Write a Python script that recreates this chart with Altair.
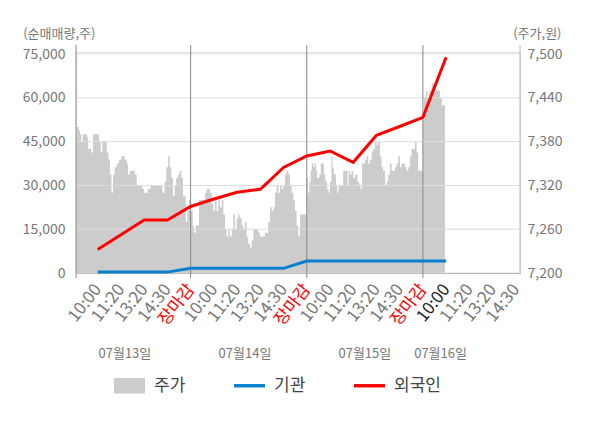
import json
import altair as alt
import pandas as pd

FONT = "Noto Sans CJK KR"

# ---- axis labels / categories ----
tick_labels = ['10:00', '11:20', '13:20', '14:30', '장마감'] * 3 + ['10:00', '11:20', '13:20', '14:30']
tick_pos = list(range(1, 20))
day_bounds = [5, 10, 15]
date_labels = ['07월13일', '07월14일', '07월15일', '07월16일']
date_pos = [2.17, 7.34, 12.5, 15.76]
vol_ticks = [0, 15000, 30000, 45000, 60000, 75000]
price_ticks = [7200, 7260, 7320, 7380, 7440, 7500]
x_domain = [0.065, 19.18]

# ---- net buying (cumulative, shares) ----
line_pos = list(range(1, 17))
foreign = [8050, 13100, 18150, 18150, 22780, 25350, 27670, 28670, 36130, 40070,
           41790, 37910, 47160, 50180, 53330, 73880]
inst = [300, 300, 300, 300, 1600, 1600, 1600, 1600, 1600, 4100,
        4100, 4100, 4100, 4100, 4100, 4100]

# ---- price (won) ----
day1_pos = [0.07, 0.11, 0.19, 0.24, 0.29, 0.35, 0.55, 0.58, 0.72, 0.80, 1.06, 1.13, 1.20, 1.39, 1.46,
            1.53, 1.59, 1.66, 1.73, 1.82, 1.92, 2.02, 2.16, 2.25, 2.30, 2.38, 2.60, 2.68, 2.92, 2.99,
            3.16, 3.28, 3.78, 3.88, 3.95, 4.03, 4.10, 4.17, 4.24, 4.31, 4.38, 4.46, 4.53, 4.60, 4.67,
            4.79, 4.86, 4.93]
day1_val = [7385, 7400, 7395, 7390, 7380, 7390, 7385, 7370, 7365, 7390, 7380, 7365, 7380, 7365, 7355,
            7335, 7310, 7335, 7345, 7350, 7355, 7360, 7355, 7350, 7335, 7340, 7335, 7320, 7315, 7310,
            7315, 7320, 7310, 7325, 7345, 7360, 7345, 7330, 7305, 7320, 7330, 7335, 7340, 7330, 7305,
            7270, 7285, 7300]
day2_pos = [5.00, 5.09, 5.14, 5.22, 5.36, 5.55, 5.62, 5.69, 5.83, 5.91, 5.98, 6.05, 6.12, 6.19, 6.26,
            6.34, 6.41, 6.48, 6.55, 6.62, 6.69, 6.77, 6.84, 6.91, 6.98, 7.05, 7.12, 7.20, 7.27, 7.34,
            7.41, 7.48, 7.56, 7.63, 7.70, 7.91, 7.99, 8.20, 8.34, 8.42, 8.49, 8.56, 8.63, 8.70, 8.78,
            8.85, 8.92, 8.99, 9.06, 9.13, 9.21, 9.28, 9.35, 9.42, 9.49, 9.56, 9.64, 9.71, 9.78]
day2_val = [7285, 7265, 7255, 7265, 7300, 7295, 7310, 7315, 7310, 7295, 7285, 7300, 7285, 7300, 7290,
            7300, 7280, 7260, 7250, 7260, 7250, 7260, 7280, 7260, 7275, 7280, 7275, 7265, 7260, 7270,
            7250, 7240, 7235, 7245, 7260, 7255, 7250, 7255, 7270, 7290, 7285, 7290, 7310, 7320, 7310,
            7320, 7315, 7320, 7335, 7340, 7335, 7320, 7310, 7300, 7285, 7265, 7250, 7280, 7280]
day3_pos = [10.00, 10.05, 10.11, 10.17, 10.22, 10.28, 10.34, 10.40, 10.45, 10.54, 10.60, 10.74, 10.80,
            10.88, 10.94, 11.00, 11.06, 11.11, 11.17, 11.26, 11.31, 11.37, 11.57, 11.75, 11.80, 11.86,
            11.93, 12.00, 12.08, 12.18, 12.26, 12.32, 12.38, 12.43, 12.51, 12.58, 12.65, 12.72, 12.79,
            12.86, 12.94, 13.01, 13.08, 13.15, 13.22, 13.29, 13.37, 13.44, 13.51, 13.58, 13.65, 13.73,
            13.80, 13.87, 13.94, 14.01, 14.08, 14.16, 14.23, 14.30, 14.37, 14.44, 14.51, 14.59, 14.66,
            14.73, 14.80]
day3_val = [7330, 7310, 7325, 7340, 7350, 7345, 7350, 7340, 7330, 7335, 7350, 7335, 7325,
            7315, 7310, 7325, 7360, 7345, 7335, 7320, 7310, 7320, 7340, 7320, 7340, 7335,
            7340, 7330, 7335, 7325, 7320, 7315, 7350, 7350, 7355, 7360, 7350, 7355, 7365,
            7370, 7380, 7375, 7380, 7360, 7345, 7340, 7320, 7325, 7335, 7350, 7340, 7340,
            7345, 7350, 7360, 7345, 7350, 7350, 7345, 7340, 7345, 7360, 7370, 7370, 7380,
            7365, 7340]
day4_pos = [15.00, 15.05, 15.13, 15.19, 15.28, 15.38, 15.52, 15.73, 15.81, 15.95]
day4_val = [7410, 7440, 7450, 7440, 7450, 7460, 7450, 7440, 7430, 7430]

series_names = ['주가', '기관', '외국인']
series_colors = ['#cccccc', '#0b7fcf', '#ff0000']
series_shapes = ['M-1,-0.5H1V0.5H-1Z', 'M-1,-0.11H1V0.11H-1Z', 'M-1,-0.11H1V0.11H-1Z']

# ---- tables ----
price_df = pd.DataFrame({
    'pos': day1_pos + day2_pos + day3_pos + day4_pos,
    'price': day1_val + day2_val + day3_val + day4_val,
})
inst_df = pd.DataFrame({'pos': line_pos, 'vol': inst})
foreign_df = pd.DataFrame({'pos': line_pos, 'vol': foreign})

W, H = 444, 221
vol_domain = [0, 75700]
price_domain = [7200, 7502.8]

x_axis = alt.Axis(
    values=tick_pos,
    labelExpr=json.dumps(tick_labels, ensure_ascii=False) + "[datum.value - 1]",
    labelAngle=308, labelAlign='right', labelBaseline='middle', labelPadding=13,
    labelFont=FONT, labelFontSize=17,
    labelColor=alt.ExprRef("datum.value % 5 == 0 ? '#ff0000' : (datum.value == 16 ? '#222222' : '#777777')"),
    labelOverlap=False, labelBound=False, labelFlush=False,
    ticks=False, tickSize=0, grid=False, domain=True, domainColor='#999999', title=None,
)
xs = alt.Scale(domain=x_domain, nice=False, zero=False)
X = alt.X('pos:Q', scale=xs, axis=x_axis)

vol_axis = alt.Axis(orient='left', values=vol_ticks, format=',d', grid=False, ticks=False,
                    tickSize=0, domain=False, labelPadding=11, labelFont=FONT, labelFontSize=14,
                    labelColor='#777777', title='(순매매량,주)', titleAngle=0, titleX=-53.3,
                    titleY=-19, titleAlign='left', titleBaseline='middle', titleFont=FONT,
                    titleFontSize=13, titleFontWeight='normal', titleColor='#777777')
vs = alt.Scale(domain=vol_domain, nice=False, zero=False)
YV = alt.Y('vol:Q', scale=vs, axis=vol_axis)

price_layer = alt.Chart(price_df).mark_area(interpolate='step-after', opacity=1,
                                             color=series_colors[0]).encode(
    x=X,
    y=alt.Y('price:Q', scale=alt.Scale(domain=price_domain, nice=False, zero=False),
            axis=alt.Axis(orient='right', values=price_ticks, format=',d', grid=False, ticks=False,
                          tickSize=0, domain=False, labelPadding=7, labelFont=FONT, labelFontSize=14,
                          labelColor='#777777', title='(주가,원)', titleAngle=0, titleX=41, titleY=-19,
                          titleAlign='right', titleBaseline='middle', titleFont=FONT,
                          titleFontSize=13, titleFontWeight='normal', titleColor='#777777')),
    y2=alt.datum(7200),
)

grid_layer = alt.Chart(pd.DataFrame({'vol': vol_ticks})).mark_rule(
    color='#dddddd', strokeWidth=1).encode(y=YV)

divider_layer = alt.Chart(pd.DataFrame({'pos': [x_domain[0]] + day_bounds})).mark_rule(
    color='#888888', strokeWidth=1).encode(x=X, y=alt.value(-7), y2=alt.value(H + 5))

right_frame = alt.Chart(pd.DataFrame({'pos': [x_domain[1]]})).mark_rule(
    color='#bbbbbb', strokeWidth=1).encode(x=X, y=alt.value(-7), y2=alt.value(H))

inst_layer = alt.Chart(inst_df).mark_line(strokeWidth=3, strokeCap='butt',
                                          color=series_colors[1]).encode(x=X, y=YV)
foreign_layer = alt.Chart(foreign_df).mark_line(strokeWidth=3, strokeCap='butt',
                                                color=series_colors[2]).encode(x=X, y=YV)

date_layer = alt.Chart(pd.DataFrame({'pos': date_pos, 'label': date_labels})).mark_text(
    font=FONT, fontSize=13, color='#777777', align='center', baseline='middle').encode(
    x=X, y=alt.value(302), text='label:N')

legend = alt.Legend(
    title=None, orient='none', legendX=38, legendY=318, direction='horizontal',
    symbolSize=961, symbolStrokeWidth=0, symbolOpacity=1, labelFont=FONT, labelFontSize=17,
    labelColor='#444444', labelOffset=9, columnPadding=48, padding=0,
)
# legend-only layer: its rows carry no position, so no point is drawn
legend_layer = alt.Chart(pd.DataFrame({'series': series_names})).mark_point(
    filled=True, opacity=1, strokeWidth=0).encode(
    x=X, y=YV,
    color=alt.Color('series:N', scale=alt.Scale(domain=series_names, range=series_colors), legend=legend),
    shape=alt.Shape('series:N', scale=alt.Scale(domain=series_names, range=series_shapes), legend=legend),
)

vol_layer = alt.layer(grid_layer, divider_layer, right_frame, inst_layer, foreign_layer,
                      date_layer, legend_layer)

chart = alt.layer(price_layer, vol_layer).resolve_scale(y='independent').properties(
    width=W, height=H,
    padding={'left': 68, 'top': 44, 'right': 60, 'bottom': 140},
    autosize=alt.AutoSizeParams(type='none'),
).configure_view(fill='#f4f4f4', stroke='transparent').configure(background='#ffffff')

chart.save('out.html', embed_options={'renderer': 'svg', 'actions': False})
